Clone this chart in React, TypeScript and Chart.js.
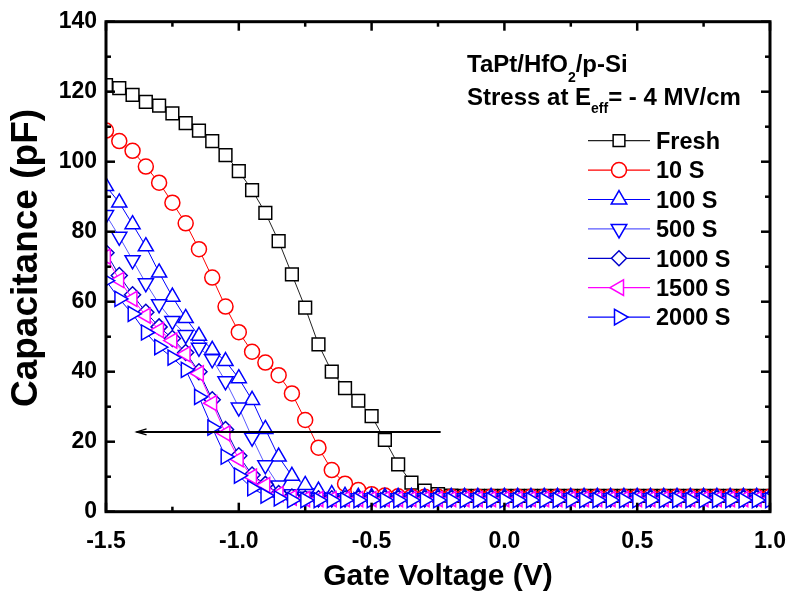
import React, { useEffect, useRef } from 'react';
import { Chart, registerables } from 'chart.js';

Chart.register(...registerables);

const FONT = '"Liberation Sans", Arial, Helvetica, sans-serif';

// Gate voltage (V)
const voltages = [
  -1.5, -1.45, -1.4, -1.35, -1.3, -1.25, -1.2, -1.15, -1.1, -1.05,
  -1.0, -0.95, -0.9, -0.85, -0.8, -0.75, -0.7, -0.65, -0.6, -0.55,
  -0.5, -0.45, -0.4, -0.35, -0.3, -0.25, -0.2, -0.15, -0.1, -0.05,
  0.0, 0.05, 0.1, 0.15, 0.2, 0.25, 0.3, 0.35, 0.4, 0.45,
  0.5, 0.55, 0.6, 0.65, 0.7, 0.75, 0.8, 0.85, 0.9, 0.95,
  1.0,
];

// Capacitance (pF)
const fresh = [
  121.9, 121.0, 119.1, 117.1, 116.0, 113.8, 111.0, 108.9, 105.9, 101.9,
  97.3, 91.9, 85.4, 77.3, 67.8, 58.3, 47.8, 40.0, 35.3, 31.7,
  27.3, 20.5, 13.5, 8.3, 6.0, 5.0, 4.6, 4.5, 4.5, 4.5,
  4.5, 4.5, 4.5, 4.5, 4.5, 4.5, 4.5, 4.5, 4.5, 4.5,
  4.5, 4.5, 4.5, 4.5, 4.5, 4.5, 4.5, 4.5, 4.5, 4.5,
  4.5,
];
const stress10 = [
  108.9, 105.9, 103.1, 98.6, 94.0, 88.3, 82.4, 75.0, 66.9, 58.6,
  51.3, 45.7, 42.6, 39.0, 33.8, 26.2, 18.3, 11.9, 8.0, 6.2,
  5.0, 4.6, 4.4, 4.3, 4.3, 4.3, 4.3, 4.3, 4.3, 4.3,
  4.3, 4.3, 4.3, 4.3, 4.3, 4.3, 4.3, 4.3, 4.3, 4.3,
  4.3, 4.3, 4.3, 4.3, 4.3, 4.3, 4.3, 4.3, 4.3, 4.3,
  4.3,
];
const stress100 = [
  93.0, 88.3, 82.1, 75.8, 68.3, 61.4, 55.3, 50.2, 46.2, 43.0,
  38.1, 31.9, 23.6, 15.7, 10.2, 7.6, 6.0, 5.0, 4.5, 4.2,
  4.2, 4.2, 4.2, 4.2, 4.2, 4.2, 4.2, 4.2, 4.2, 4.2,
  4.2, 4.2, 4.2, 4.2, 4.2, 4.2, 4.2, 4.2, 4.2, 4.2,
  4.2, 4.2, 4.2, 4.2, 4.2, 4.2, 4.2, 4.2, 4.2, 4.2,
  4.2,
];
const stress500 = [
  84.8, 78.6, 71.9, 65.3, 59.3, 54.5, 50.5, 46.9, 43.6, 37.3,
  29.8, 21.2, 13.3, 7.5, 5.0, 4.3, 3.9, 3.9, 3.9, 3.9,
  3.9, 3.9, 3.9, 3.9, 3.9, 3.9, 3.9, 3.9, 3.9, 3.9,
  3.9, 3.9, 3.9, 3.9, 3.9, 3.9, 3.9, 3.9, 3.9, 3.9,
  3.9, 3.9, 3.9, 3.9, 3.9, 3.9, 3.9, 3.9, 3.9, 3.9,
  3.9,
];
const stress1000 = [
  74.0, 67.5, 62.0, 57.0, 52.8, 49.5, 45.5, 40.0, 32.0, 23.5,
  16.0, 10.5, 7.8, 5.2, 4.2, 3.7, 3.7, 3.7, 3.7, 3.7,
  3.7, 3.7, 3.7, 3.7, 3.7, 3.7, 3.7, 3.7, 3.7, 3.7,
  3.7, 3.7, 3.7, 3.7, 3.7, 3.7, 3.7, 3.7, 3.7, 3.7,
  3.7, 3.7, 3.7, 3.7, 3.7, 3.7, 3.7, 3.7, 3.7, 3.7,
  3.7,
];
const stress1500 = [
  72.9, 66.2, 60.8, 56.0, 51.9, 48.9, 45.0, 39.5, 31.0, 22.4,
  15.0, 10.0, 7.6, 5.0, 4.0, 3.6, 3.6, 3.6, 3.6, 3.6,
  3.6, 3.6, 3.6, 3.6, 3.6, 3.6, 3.6, 3.6, 3.6, 3.6,
  3.6, 3.6, 3.6, 3.6, 3.6, 3.6, 3.6, 3.6, 3.6, 3.6,
  3.6, 3.6, 3.6, 3.6, 3.6, 3.6, 3.6, 3.6, 3.6, 3.6,
  3.6,
];
const stress2000 = [
  66.0, 60.8, 56.5, 51.2, 47.0, 44.0, 40.5, 32.8, 24.0, 15.7,
  10.3, 6.7, 4.6, 3.8, 3.3, 3.3, 3.3, 3.3, 3.3, 3.3,
  3.3, 3.3, 3.3, 3.3, 3.3, 3.3, 3.3, 3.3, 3.3, 3.3,
  3.3, 3.3, 3.3, 3.3, 3.3, 3.3, 3.3, 3.3, 3.3, 3.3,
  3.3, 3.3, 3.3, 3.3, 3.3, 3.3, 3.3, 3.3, 3.3, 3.3,
  3.3,
];

const seriesLabels = ['Fresh', '10 S', '100 S', '500 S', '1000 S', '1500 S', '2000 S'];
const seriesValues = [fresh, stress10, stress100, stress500, stress1000, stress1500, stress2000];

const xMajorTicks = [-1.5, -1.0, -0.5, 0.0, 0.5, 1.0];
const xMinorTicks = [-1.25, -0.75, -0.25, 0.25, 0.75];
const yMajorTicks = [0, 20, 40, 60, 80, 100, 120, 140];
const yMinorTicks = [10, 30, 50, 70, 90, 110, 130];

// arrow annotation (data coords)
const arrowStart = { x: -0.24, y: 22.8 };
const arrowEnd = { x: -1.385, y: 22.8 };

type Sty = { marker: string; line: string; shape: string; rot: number; r: number; lr: number };
const styles: Sty[] = [
  { marker: '#000000', line: '#222222', shape: 'rect', rot: 0, r: 9, lr: 8.3 },
  { marker: '#ff0000', line: '#ff0000', shape: 'circle', rot: 0, r: 7.5, lr: 7.5 },
  { marker: '#0000ff', line: '#0000ff', shape: 'triangle', rot: 0, r: 8.7, lr: 9 },
  { marker: '#0000ff', line: '#5a5aff', shape: 'triangle', rot: 180, r: 8.7, lr: 9 },
  { marker: '#0000cc', line: '#0000cc', shape: 'rectRot', rot: 0, r: 8, lr: 7.5 },
  { marker: '#ff00ff', line: '#ff00ff', shape: 'triangle', rot: 270, r: 8.7, lr: 9 },
  { marker: '#0000ff', line: '#0000ff', shape: 'triangle', rot: 90, r: 8.7, lr: 9 },
];

function markerPath(ctx: CanvasRenderingContext2D, shape: string, x: number, y: number, r: number, rotDeg: number) {
  ctx.beginPath();
  if (shape === 'circle') {
    ctx.arc(x, y, r, 0, Math.PI * 2);
  } else if (shape === 'rect') {
    const s = Math.SQRT1_2 * r;
    ctx.rect(x - s, y - s, 2 * s, 2 * s);
  } else if (shape === 'rectRot') {
    ctx.moveTo(x - r, y);
    ctx.lineTo(x, y - r);
    ctx.lineTo(x + r, y);
    ctx.lineTo(x, y + r);
    ctx.closePath();
  } else {
    let a = (rotDeg * Math.PI) / 180;
    ctx.moveTo(x + Math.sin(a) * r, y - Math.cos(a) * r);
    a += (2 * Math.PI) / 3;
    ctx.lineTo(x + Math.sin(a) * r, y - Math.cos(a) * r);
    a += (2 * Math.PI) / 3;
    ctx.lineTo(x + Math.sin(a) * r, y - Math.cos(a) * r);
    ctx.closePath();
  }
}

const decorPlugin = {
  id: 'decor',
  afterDraw(chart: any) {
    const { ctx, chartArea } = chart;
    const xs = chart.scales.x;
    const ys = chart.scales.y;
    const { left, right, top, bottom } = chartArea;
    ctx.save();
    ctx.strokeStyle = '#000';
    ctx.lineCap = 'butt';

    const seg = (x1: number, y1: number, x2: number, y2: number) => {
      ctx.beginPath();
      ctx.moveTo(x1, y1);
      ctx.lineTo(x2, y2);
      ctx.stroke();
    };
    // inward ticks
    ctx.lineWidth = 2.5;
    const majL = 9, minL = 5;
    xMajorTicks.forEach((v) => {
      const px = xs.getPixelForValue(v);
      seg(px, bottom, px, bottom - majL);
      seg(px, top, px, top + majL);
    });
    xMinorTicks.forEach((v) => {
      const px = xs.getPixelForValue(v);
      seg(px, bottom, px, bottom - minL);
      seg(px, top, px, top + minL);
    });
    yMajorTicks.forEach((v) => {
      const py = ys.getPixelForValue(v);
      seg(left, py, left + majL, py);
      seg(right, py, right - majL, py);
    });
    yMinorTicks.forEach((v) => {
      const py = ys.getPixelForValue(v);
      seg(left, py, left + minL, py);
      seg(right, py, right - minL, py);
    });

    // frame
    ctx.lineWidth = 3;
    ctx.strokeRect(left, top, right - left, bottom - top);

    // arrow
    const ax1 = xs.getPixelForValue(arrowStart.x);
    const ax2 = xs.getPixelForValue(arrowEnd.x);
    const ay = ys.getPixelForValue(arrowStart.y);
    ctx.lineWidth = 2;
    seg(ax1, ay, ax2, ay);
    ctx.lineWidth = 1.3;
    ctx.beginPath();
    ctx.moveTo(ax2 + 10, ay - 3);
    ctx.lineTo(ax2, ay);
    ctx.lineTo(ax2 + 10, ay + 3);
    ctx.stroke();

    // y axis title
    ctx.fillStyle = '#000';
    ctx.save();
    ctx.translate(27, 258);
    ctx.rotate(-Math.PI / 2);
    ctx.textAlign = 'center';
    ctx.textBaseline = 'middle';
    ctx.font = `bold 37px ${FONT}`;
    ctx.fillText('Capacitance (pF)', 0, 0);
    ctx.restore();

    // annotation text
    ctx.textBaseline = 'alphabetic';
    ctx.textAlign = 'left';
    const big = `bold 24px ${FONT}`;
    const small = `bold 14px ${FONT}`;
    let tx = 467;
    ctx.font = big;
    ctx.fillText('TaPt/HfO', tx, 71.7);
    tx += ctx.measureText('TaPt/HfO').width;
    ctx.font = small;
    ctx.fillText('2', tx, 81.5);
    tx += ctx.measureText('2').width;
    ctx.font = big;
    ctx.fillText('/p-Si', tx, 71.7);

    tx = 467;
    ctx.fillText('Stress at E', tx, 105);
    tx += ctx.measureText('Stress at E').width;
    ctx.font = small;
    ctx.fillText('eff', tx, 113);
    tx += ctx.measureText('eff').width;
    ctx.font = big;
    ctx.fillText('= - 4 MV/cm', tx, 105);

    // legend
    const lx1 = 588, lx2 = 650, mx = 619, textX = 656;
    const rowTop = 140.7, rowStep = 29.4;
    const legFont = `bold 23.5px ${FONT}`;
    seriesLabels.forEach((lab, i) => {
      const st = styles[i];
      const cy = rowTop + i * rowStep;
      ctx.strokeStyle = st.line;
      ctx.lineWidth = 1.2;
      seg(lx1, cy, lx2, cy);
      ctx.strokeStyle = st.marker;
      ctx.lineWidth = 1.5;
      markerPath(ctx, st.shape, mx, cy, st.lr, st.rot);
      ctx.fillStyle = '#fff';
      ctx.fill();
      ctx.stroke();
      ctx.fillStyle = '#000';
      ctx.font = legFont;
      ctx.fillText(lab, textX, cy + 8.3);
    });
    ctx.restore();
  },
};

export default function App() {
  const ref = useRef<HTMLCanvasElement>(null);
  useEffect(() => {
    const canvas = ref.current;
    if (!canvas) return;
    const datasets = seriesValues.map((vals, i) => ({
      label: seriesLabels[i],
      data: vals.map((v, j) => ({ x: voltages[j], y: v })),
      borderColor: styles[i].line,
      borderWidth: 1,
      pointStyle: styles[i].shape as any,
      pointRotation: styles[i].rot,
      pointRadius: styles[i].r,
      pointBorderColor: styles[i].marker,
      pointBackgroundColor: '#ffffff',
      pointBorderWidth: 1.5,
      tension: 0,
      fill: false,
      order: 6 - i,
    }));
    const chart = new Chart(canvas, {
      type: 'line',
      data: { datasets },
      options: {
        responsive: false,
        animation: false,
        devicePixelRatio: 1,
        events: [],
        layout: { padding: { top: 21.7, right: 18, left: 0, bottom: 0 } },
        plugins: { legend: { display: false }, tooltip: { enabled: false } },
        scales: {
          x: {
            type: 'linear',
            min: -1.5,
            max: 1.0,
            afterFit: (s: any) => {
              s.height = 85.3;
              s.paddingLeft = 0;
              s.paddingRight = 0;
            },
            grid: { display: false, drawTicks: false },
            border: { display: false },
            ticks: {
              stepSize: 0.5,
              autoSkip: false,
              maxRotation: 0,
              padding: 16,
              color: '#000',
              font: { family: FONT, size: 23, weight: 'bold' },
              callback: (v: any) => Number(v).toFixed(1),
            },
            title: {
              display: true,
              text: 'Gate Voltage (V)',
              color: '#000',
              font: { family: FONT, size: 30, weight: 'bold' },
              padding: { top: 0, bottom: 2 },
            },
          },
          y: {
            type: 'linear',
            min: 0,
            max: 140,
            afterFit: (s: any) => {
              s.width = 106;
              s.paddingTop = 0;
              s.paddingBottom = 0;
            },
            grid: { display: false, drawTicks: false },
            border: { display: false },
            ticks: {
              stepSize: 20,
              padding: 9,
              color: '#000',
              font: { family: FONT, size: 23, weight: 'bold' },
            },
            title: { display: false },
          },
        },
      } as any,
      plugins: [decorPlugin],
    });
    return () => chart.destroy();
  }, []);
  return (
    <div style={{ position: 'absolute', left: 0, top: 0, width: 788, height: 597, background: '#ffffff' }}>
      <canvas ref={ref} width={788} height={597} style={{ display: 'block' }} />
    </div>
  );
}
